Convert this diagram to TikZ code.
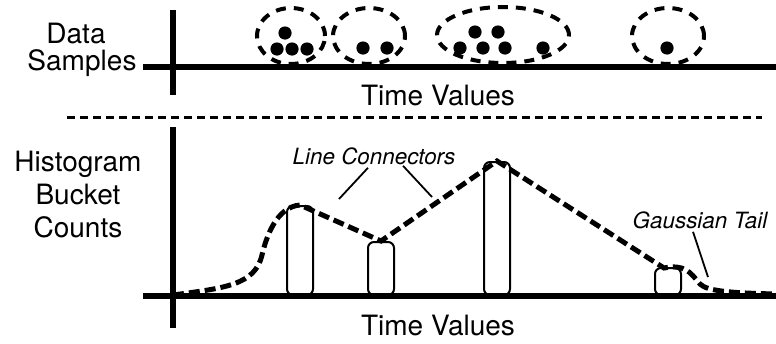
\documentclass[tikz,border=0pt]{standalone}
\usepackage{fontspec}
\setmainfont{TeX Gyre Heros}
\usepackage{tikz}
\tikzstyle{label} = [font=\fontsize{14}{16.5}\selectfont, align=center, inner sep=0pt]
\tikzstyle{note} = [font=\fontsize{11.2}{13}\selectfont\itshape, inner sep=0pt]
\tikzstyle{axis} = [draw, line width=3pt]
\tikzstyle{bar} = [rectangle, draw, line width=1pt, rounded corners=3pt,
minimum width=13pt, inner sep=0pt, anchor=south]
\tikzstyle{fit line} = [draw, line width=2.5pt, dash pattern=on 5.5pt off 2.5pt]
\tikzstyle{cluster} = [draw, line width=2pt, dash pattern=on 5pt off 4pt]
\tikzstyle{pointer} = [draw, line width=0.9pt]

\begin{document}
\begin{tikzpicture}[x=0.5pt, y=-0.5pt]
\useasboundingbox (0,0) rectangle (776,343);

% Place nodes
\node [label, anchor=base] (data) at (76,43) {Data};
\node [label, anchor=base] (samples) at (82,70) {Samples};
\node [label, anchor=base] (time1) at (438,105) {Time Values};
\node [label] (counts) at (78,195) {Histogram\\Bucket\\Counts};
\node [label, anchor=base] (time2) at (438,335) {Time Values};
\node [note, anchor=base] (conn) at (374,164) {Line Connectors};
\node [note, anchor=base] (tail) at (700,228) {Gaussian Tail};
\node [bar, minimum height=44.5pt] (b1) at (300,296) {};
\node [bar, minimum height=26.5pt] (b2) at (381,296) {};
\node [bar, minimum height=66.5pt] (b3) at (497,296) {};
\node [bar, minimum height=13.5pt] (b4) at (668,296) {};
\coordinate (conn-a) at (339,199);
\coordinate (conn-b) at (432,197);
\coordinate (tail-a) at (708,277);

% Top: samples along the time axis
\path [axis] (173,10) -- (173,95);
\path [axis] (143,67) -- (776,67);
\path [cluster] (291,36) ellipse [x radius=17pt, y radius=14pt];
\path [cluster] (369,36) ellipse [x radius=18pt, y radius=14pt];
\path [cluster] (503,35) ellipse [x radius=33pt, y radius=14pt];
\path [cluster] (668,36) ellipse [x radius=18pt, y radius=14pt];
\fill (285,33) circle [radius=3.3pt] (277,49) circle [radius=3.3pt]
      (292,49) circle [radius=3.3pt] (307,49) circle [radius=3.3pt]
      (363,48) circle [radius=3.3pt] (387,48) circle [radius=3.3pt]
      (475,32) circle [radius=3.3pt] (498,32) circle [radius=3.3pt]
      (460,48) circle [radius=3.3pt] (483,48) circle [radius=3.3pt]
      (505,48) circle [radius=3.3pt] (543,48) circle [radius=3.3pt]
      (667,48) circle [radius=3.3pt];

% Separator
\draw [line width=1.5pt, dash pattern=on 4pt off 2.5pt] (67,117) -- (762,117);

% Bottom: histogram buckets
\path [axis] (173,127) -- (173,328);
\path [axis] (143,296) -- (776,296);
\path [fit line] (173,295) .. controls (225,288) and (255,285) .. (262,255)
  .. controls (266,238) and (276,207) .. (b1.north)
  -- (b2.north) -- (b3.north) -- (664,268)
  .. controls (685,264) and (690,272) .. (700,284)
  .. controls (707,291) and (730,293) .. (776,294);
\path [pointer] ([xshift=-3pt, yshift=-1.5pt]conn.south) -- (conn-a);
\path [pointer] ([xshift=14.5pt, yshift=-0.5pt]conn.south) -- (conn-b);
\path [pointer] ([xshift=-3.5pt, yshift=-1.5pt]tail.south) -- (tail-a);
\end{tikzpicture}
\end{document}
